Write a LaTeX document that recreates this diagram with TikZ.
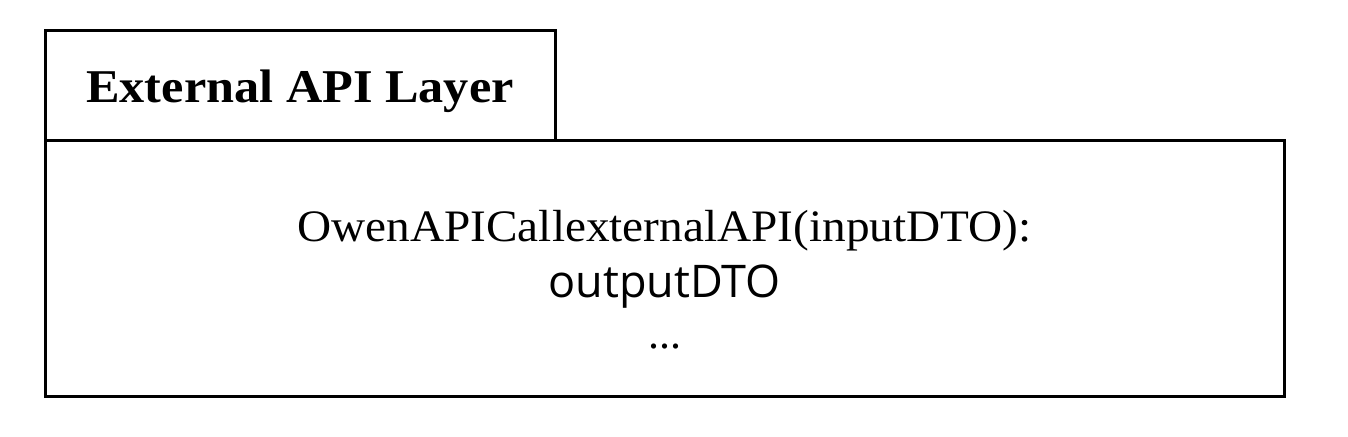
\documentclass[tikz,border=0pt]{standalone}
\usepackage{fontspec}
\setmainfont{Liberation Serif}
\newfontfamily\dtofont{Open Sans}
\begin{document}
\begin{tikzpicture}[x=1pt,y=-1pt,
  frame/.style={draw=black,line width=3pt},
  txt/.style={inner sep=0pt,anchor=base}]
\useasboundingbox (0,0) rectangle (1348,436);
\draw[frame] (45,31) rectangle (555,140);
\draw[frame] (45,140) rectangle (1284,396);
\node[txt] (title) at (300,102) {\scalebox{1.07}[1]{\fontsize{47}{56}\selectfont\bfseries External API Layer}};
\node[txt] (op) at (664.5,241.5) {\scalebox{1.05}[1]{\fontsize{45}{54}\selectfont OwenAPICallexternalAPI(inputDTO):}};
\node[txt] (ret) at (664.5,297) {\dtofont\fontsize{45}{54}\selectfont outputDTO};
\node[txt] (dots) at (664.5,348) {\fontsize{44}{52}\selectfont ...};
\end{tikzpicture}
\end{document}
